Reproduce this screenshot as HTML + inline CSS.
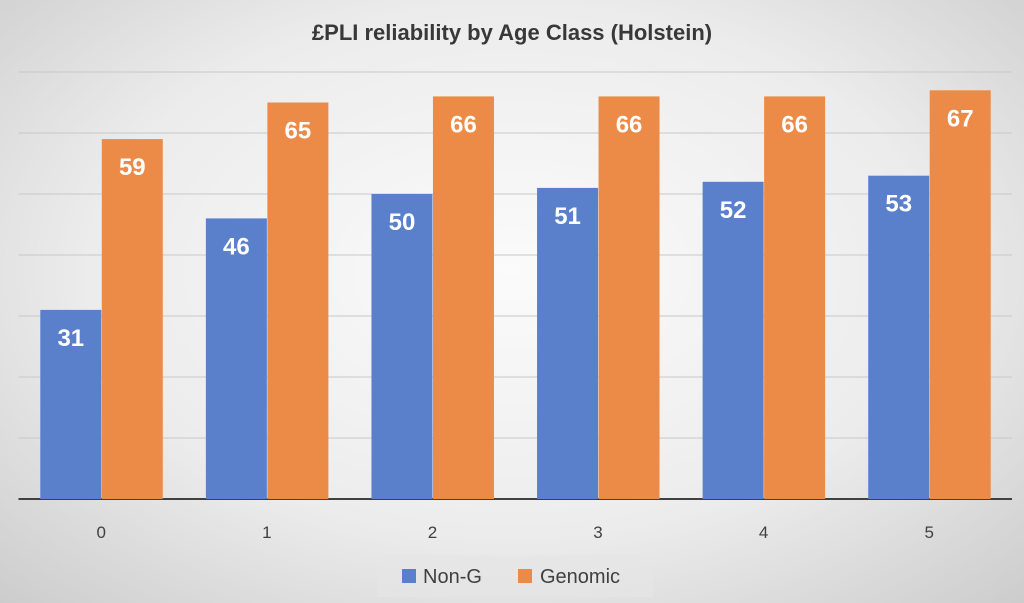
<!DOCTYPE html>
<html><head><meta charset="utf-8"><style>
body{margin:0;width:1024px;height:603px;overflow:hidden;font-family:"Liberation Sans",sans-serif;}
#bg{position:absolute;left:0;top:0;width:1024px;height:603px;background:radial-gradient(ellipse 75% 80% at 50% 45%,#fbfbfb 0%,#ececec 55%,#c9c9c9 100%);}
</style></head><body>
<div id="bg"></div>
<svg id="chart" width="1024" height="603" style="position:absolute;left:0;top:0">
<text x="512" y="40" text-anchor="middle" font-size="22" font-weight="bold" fill="#383838" font-family="Liberation Sans, sans-serif">£PLI reliability by Age Class (Holstein)</text>
<g id="grid"></g><g id="bars"></g><g id="xlabels"></g>
<g>
<rect x="378" y="555" width="275" height="42" fill="#e6e6e6" opacity="0.7"/>
<g><rect x="402" y="569" width="14" height="14" fill="#5a7fcb"/><text x="423" y="583" font-size="20" fill="#404040">Non-G</text></g>
<g><rect x="518" y="569" width="14" height="14" fill="#ec8b47"/><text x="540" y="583" font-size="20" fill="#404040">Genomic</text></g>
</g>
</svg>
<script>
const categories=["0","1","2","3","4","5"];
const nonG=[31,46,50,51,52,53];
const genomic=[59,65,66,66,66,67];
const yTicks=[0,10,20,30,40,50,60,70];
const NS="http://www.w3.org/2000/svg";
const plotLeft=18.5,plotRight=1012,plotBase=499,plotTop=72,yMax=70;
const yScale=v=>plotBase-(v/yMax)*(plotBase-plotTop);
const catW=(plotRight-plotLeft)/categories.length;
const xc=i=>plotLeft+catW*(i+0.5);
const bw=61;
function mk(t,a,p){const e=document.createElementNS(NS,t);for(const k in a)e.setAttribute(k,a[k]);p.appendChild(e);return e;}
const grid=document.getElementById('grid');
yTicks.forEach(v=>{const l=mk('line',{x1:plotLeft,x2:plotRight,y1:yScale(v),y2:yScale(v),stroke:v===0?'#404040':'#c8c8c8','stroke-width':v===0?2:1},grid);

});
const bars=document.getElementById('bars');
function series(vals,off,color,name){vals.forEach((v,i)=>{
const x=xc(i)+off;
const r=mk('rect',{x:x,y:yScale(v),width:bw,height:plotBase-yScale(v),fill:color},bars);


const t=mk('text',{x:x+bw/2,y:yScale(v)+36,'text-anchor':'middle','font-size':24,'font-weight':'bold',fill:'#fff'},bars);
t.textContent=v;

});}
series(nonG,-bw,'#5a7fcb','non-g');
series(genomic,0.5,'#ec8b47','genomic');
const xl=document.getElementById('xlabels');
categories.forEach((c,i)=>{const t=mk('text',{x:xc(i),y:538,'text-anchor':'middle','font-size':17,fill:'#404040'},xl);
t.textContent=c;

});
</script>
</body></html>
